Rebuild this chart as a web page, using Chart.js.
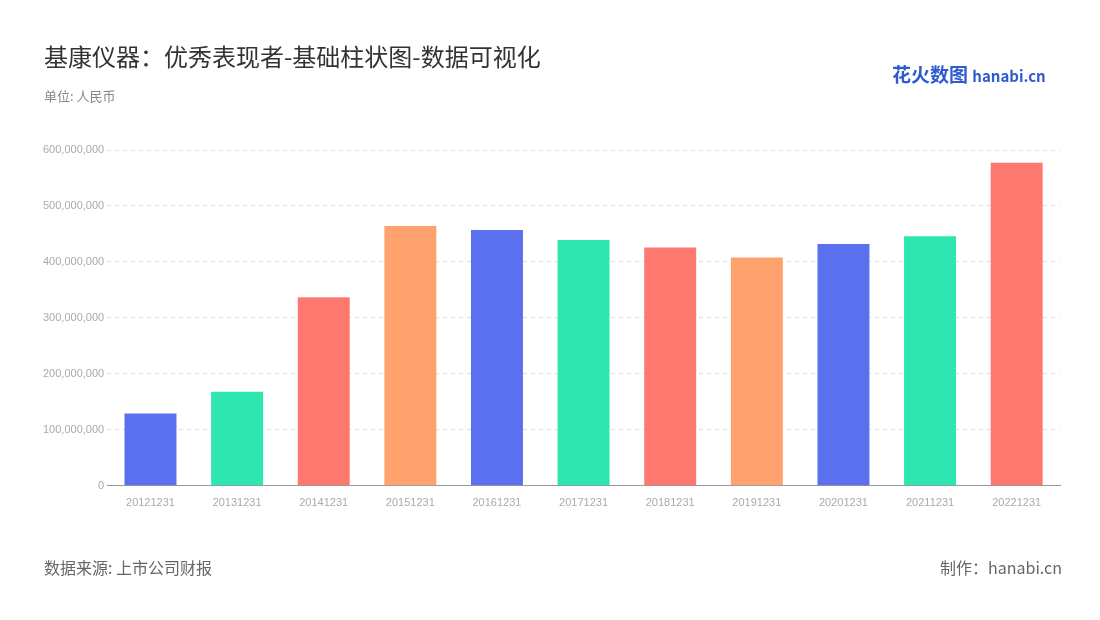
<!DOCTYPE html>
<html><head><meta charset="utf-8">
<script src="https://cdn.jsdelivr.net/npm/chart.js@4"></script>
<style>
body{margin:0;width:1100px;height:620px;background:#fff;font-family:"Noto Sans CJK SC","Noto Sans",sans-serif;position:relative;overflow:hidden}
#c{position:absolute;left:0;top:0}
.t{position:absolute;white-space:nowrap}
</style></head><body>
<canvas id="c" width="1100" height="620"></canvas>
<div class="t" style="left:44px;top:38px;font-size:24px;color:#333">基康仪器：优秀表现者-基础柱状图-数据可视化</div>
<div class="t" style="left:44px;top:86px;font-size:13px;color:#888">单位: 人民币</div>
<div class="t" style="left:892px;top:60px;font-size:19px;font-weight:bold;color:#2F5BD0">花火数图 <span style="font-size:15px">hanabi.cn</span></div>
<div class="t" style="left:44px;top:555px;font-size:16px;color:#666">数据来源: 上市公司财报</div>
<div class="t" style="left:940px;top:555px;font-size:16px;color:#666">制作：hanabi.cn</div>
<script>
const categories=["20121231","20131231","20141231","20151231","20161231","20171231","20181231","20191231","20201231","20211231","20221231"];
const values=[129000000,168000000,337000000,464000000,457000000,439000000,426000000,408000000,432000000,446000000,577000000];
const colors=["#5A70EE","#2DE6B0","#FF7870","#FFA26E"];
new Chart(document.getElementById('c'),{type:'bar',
data:{labels:categories,datasets:[{data:values,backgroundColor:categories.map((_,i)=>colors[i%4]),barPercentage:0.6,categoryPercentage:1}]},
options:{responsive:false,animation:false,layout:{padding:{left:40,right:40,top:150,bottom:107}},
plugins:{legend:{display:false},tooltip:{enabled:false}},
scales:{x:{grid:{display:false},border:{color:'#999'},ticks:{color:'#aaa',font:{size:11}}},
y:{min:0,max:600000000,ticks:{stepSize:100000000,color:'#aaa',font:{size:11},callback:v=>v.toLocaleString('en-US')},grid:{color:'#ddd',drawTicks:false},border:{display:false,dash:[4,4]}}}}});
</script></body></html>
